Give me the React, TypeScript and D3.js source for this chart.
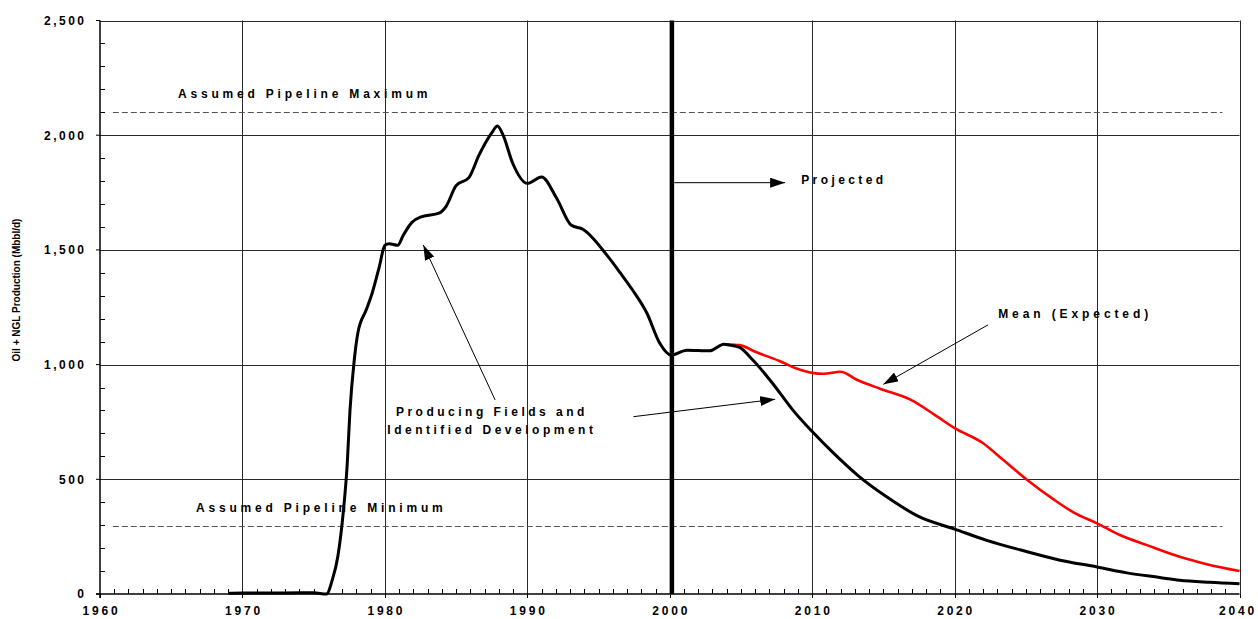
import React from "react";
import * as d3 from "d3";

// ---- Data ----
const producingYears = [
  1969, 1970, 1972, 1974, 1975, 1975.9, 1976.3, 1976.7, 1977.1, 1977.35, 1977.55, 1977.85,
  1978.1, 1978.7, 1979.1, 1979.6, 1980.0, 1980.3, 1980.9, 1981.3, 1981.9, 1982.6, 1983.8,
  1984.3, 1985.0, 1985.9, 1986.6, 1987.5, 1987.9, 1988.3, 1988.96, 1990.0, 1991.0, 1992.06,
  1993.1, 1993.9, 1995.6, 1996.5, 1997.4, 1998.4, 1999.3, 2000.1, 2001.2, 2002.8, 2003.8,
  2004.2, 2004.9, 2005.8, 2007.2, 2008.6, 2010, 2011.5, 2013.3, 2015.2, 2017.5, 2020,
  2022.2, 2025.1, 2027.4, 2030, 2032.1, 2034.4, 2035.8, 2037.9, 2040,
];
const producingValues = [
  3, 4, 4, 5, 5, 0, 60, 165, 370, 560, 800, 1020,
  1137, 1240, 1310, 1424, 1520, 1527, 1520, 1565, 1620, 1645, 1660,
  1690, 1780, 1815, 1912, 2010, 2040, 2000, 1880, 1790, 1818, 1725,
  1607, 1590, 1476, 1402, 1324, 1224, 1093, 1041, 1063, 1060, 1089,
  1085, 1075, 1022, 920, 805, 708, 614, 512, 425, 337, 283,
  235, 184, 147, 118, 92, 72, 60, 51, 45,
];
const meanYears = [
  2004.0, 2004.9, 2006.05, 2007.7, 2008.9, 2010, 2010.8, 2012, 2013.1, 2014.8, 2016.9,
  2018.6, 2020, 2022.0, 2023.4, 2025.1, 2027.0, 2028.4, 2030, 2031.6, 2033.5, 2035.8,
  2037.7, 2040,
];
const meanValues = [
  1089, 1085, 1055, 1016, 983, 964, 960, 969, 935, 894, 847,
  781, 723, 657, 585, 497, 410, 354, 308, 257, 213, 162,
  130, 100,
];

const xTickYears = [1960, 1970, 1980, 1990, 2000, 2010, 2020, 2030, 2040];
const yTickValues = [0, 500, 1000, 1500, 2000, 2500];
const pipelineMax = 2100;
const pipelineMin = 295;
const projectionYear = 2000.15;
const yTitle = "Oil + NGL Production (Mbbl/d)";

const FONT = "'Liberation Sans', Arial, Helvetica, sans-serif";

export default function App() {
  const W = 1258;
  const H = 619;
  const x = d3.scaleLinear().domain([1960, 2040]).range([100, 1239.5]);
  const y = d3.scaleLinear().domain([0, 2500]).range([594, 20.5]);

  const line = d3
    .line<[number, number]>()
    .x((d) => x(d[0]))
    .y((d) => y(d[1]))
    .curve(d3.curveMonotoneX);

  const producing: [number, number][] = producingYears.map((yr, i) => [yr, producingValues[i]]);
  const mean: [number, number][] = meanYears.map((yr, i) => [yr, meanValues[i]]);

  const minorYears = d3.range(1961, 2040).filter((v) => v % 10 !== 0);
  const minorValues = d3.range(100, 2500, 100).filter((v) => v % 500 !== 0);
  const fmt = d3.format(",");

  const gridColor = "#2a2a2a";

  const label = (
    text: string,
    yr: number,
    val: number,
    spacing: number,
    anchor: "start" | "middle" = "start"
  ) => (
    <text
      key={text}
      x={x(yr) + (anchor === "middle" ? spacing / 2 : 0)}
      y={y(val)}
      fontFamily={FONT}
      fontWeight="bold"
      fontSize={12}
      letterSpacing={spacing}
      textAnchor={anchor}
      fill="#000"
    >
      {text}
    </text>
  );

  const arrow = (x1: number, v1: number, x2: number, v2: number, key: string) => (
    <line
      key={key}
      x1={x(x1)}
      y1={y(v1)}
      x2={x(x2)}
      y2={y(v2)}
      stroke="#000"
      strokeWidth={1}
      markerEnd="url(#ah)"
    />
  );

  return (
    <svg
      width={W}
      height={H}
      style={{ position: "absolute", left: 0, top: 0, background: "#fff" }}
    >
      <defs>
        <marker
          id="ah"
          viewBox="0 0 10 10"
          refX={10}
          refY={5}
          markerWidth={15}
          markerHeight={10}
          markerUnits="userSpaceOnUse"
          orient="auto"
          preserveAspectRatio="none"
        >
          <path d="M0,0 L10,5 L0,10 z" fill="#000" />
        </marker>
      </defs>
      <rect x={0} y={0} width={W} height={H} fill="#fff" />

      {/* horizontal grid */}
      {yTickValues.slice(1).map((v) => (
        <line
          key={"hg" + v}
          x1={x(1960)}
          x2={x(2040)}
          y1={Math.round(y(v)) + 0.5}
          y2={Math.round(y(v)) + 0.5}
          stroke={gridColor}
          strokeWidth={1}
        />
      ))}
      {/* vertical grid */}
      {xTickYears.slice(1).map((yr) => (
        <line
          key={"vg" + yr}
          x1={Math.round(x(yr)) + 0.5}
          x2={Math.round(x(yr)) + 0.5}
          y1={y(2500)}
          y2={y(0)}
          stroke={gridColor}
          strokeWidth={1}
        />
      ))}

      {/* pipeline lines */}
      {[pipelineMax, pipelineMin].map((v) => (
        <line
          key={"pl" + v}
          x1={x(1960.9)}
          x2={x(2038.8)}
          y1={Math.round(y(v)) + 0.5}
          y2={Math.round(y(v)) + 0.5}
          stroke="#555"
          strokeWidth={1}
          strokeDasharray="6,3"
        />
      ))}

      {/* axes */}
      <line x1={x(1960)} x2={x(1960)} y1={y(2500)} y2={y(0) + 4} stroke="#000" strokeWidth={1.5} />
      <line x1={x(1960) - 4} x2={x(2040)} y1={y(0)} y2={y(0)} stroke="#000" strokeWidth={1.5} />
      {/* y major ticks */}
      {yTickValues.map((v) => (
        <line key={"ymt" + v} x1={x(1960) - 4} x2={x(1960)} y1={y(v)} y2={y(v)} stroke="#000" strokeWidth={1} />
      ))}
      {/* y minor ticks */}
      {minorValues.map((v) => (
        <line
          key={"ymn" + v}
          x1={x(1960)}
          x2={x(1960) + 5}
          y1={Math.round(y(v)) + 0.5}
          y2={Math.round(y(v)) + 0.5}
          stroke="#000"
          strokeWidth={1}
        />
      ))}
      {/* x major ticks */}
      {xTickYears.map((yr) => (
        <line key={"xmt" + yr} x1={Math.round(x(yr)) + 0.5} x2={Math.round(x(yr)) + 0.5} y1={y(0)} y2={y(0) + 4} stroke="#000" strokeWidth={1} />
      ))}
      {/* x minor ticks */}
      {minorYears.map((yr) => (
        <line
          key={"xmn" + yr}
          x1={Math.round(x(yr)) + 0.5}
          x2={Math.round(x(yr)) + 0.5}
          y1={y(0)}
          y2={y(0) - 5}
          stroke="#000"
          strokeWidth={1}
        />
      ))}

      {/* tick labels */}
      {yTickValues.map((v) => (
        <text
          key={"yl" + v}
          x={x(1960) - 16 + 2.5}
          y={y(v)}
          dy="0.36em"
          textAnchor="end"
          fontFamily={FONT}
          fontWeight="bold"
          fontSize={12}
          letterSpacing={2.5}
        >
          {fmt(v)}
        </text>
      ))}
      {xTickYears.map((yr) => (
        <text
          key={"xl" + yr}
          x={Math.min(x(yr) + 1.5, W - 20)}
          y={615}
          textAnchor="middle"
          fontFamily={FONT}
          fontWeight="bold"
          fontSize={12}
          letterSpacing={2.8}
        >
          {yr}
        </text>
      ))}

      {/* y title */}
      <text
        transform={`translate(20, 290) rotate(-90)`}
        textAnchor="middle"
        fontFamily={FONT}
        fontWeight="bold"
        fontSize={10}
      >
        {yTitle}
      </text>

      {/* projection divider */}
      <line
        x1={x(projectionYear)}
        x2={x(projectionYear)}
        y1={y(2500)}
        y2={y(0)}
        stroke="#000"
        strokeWidth={4.5}
      />

      {/* series */}
      <path d={line(mean) || ""} fill="none" stroke="#ff0000" strokeWidth={2.6} />
      <path d={line(producing) || ""} fill="none" stroke="#000" strokeWidth={3} strokeLinejoin="round" />

      {/* annotations */}
      {label("Assumed Pipeline Maximum", 1965.48, 2162, 3.8)}
      {label("Assumed Pipeline Minimum", 1966.74, 357, 3.8)}
      {label("Projected", 2009.23, 1787, 3.4)}
      {label("Mean (Expected)", 2023.06, 1205, 3.9)}
      {label("Producing Fields and", 1987.39, 777, 3.5, "middle")}
      {label("Identified Development", 1987.39, 697.5, 3.5, "middle")}

      {arrow(2000.31, 1793, 2008.1, 1793, "a1")}
      {arrow(2022.34, 1173, 2015.0, 914, "a2")}
      {arrow(1987.74, 846, 1982.7, 1521, "a3")}
      {arrow(1997.45, 773, 2007.4, 849, "a4")}
    </svg>
  );
}
